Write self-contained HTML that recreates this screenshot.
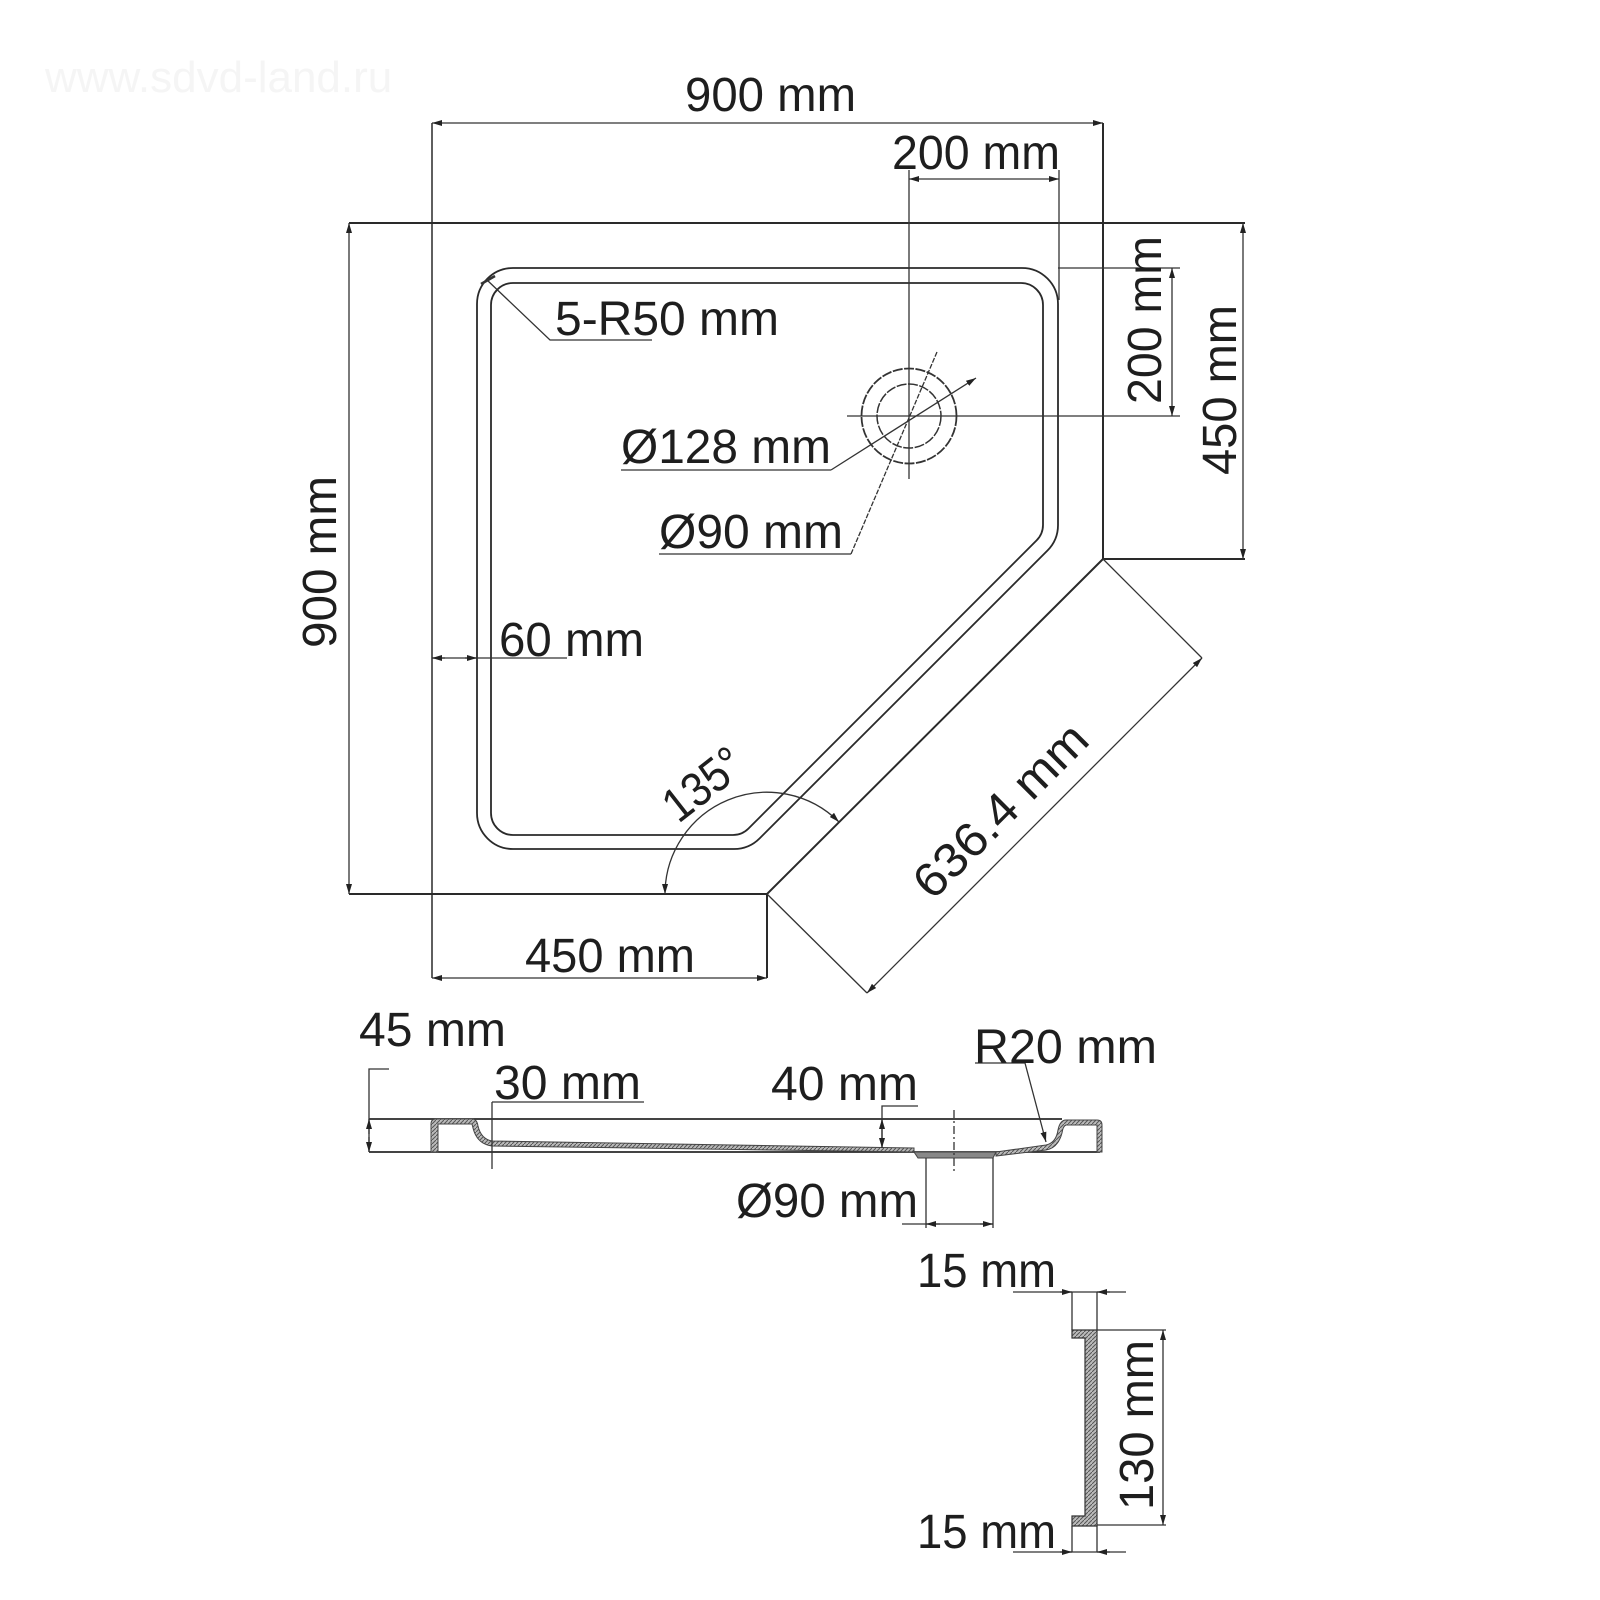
<!DOCTYPE html>
<html><head><meta charset="utf-8"><style>
html,body{margin:0;padding:0;background:#fff;}
svg{display:block;}
text{font-family:"Liberation Sans",sans-serif;fill:#1e1e1e;}
</style></head><body>
<svg width="1600" height="1600" viewBox="0 0 1600 1600" xmlns="http://www.w3.org/2000/svg">
<defs>
<marker id="a" viewBox="0 0 10 6" refX="10" refY="3" markerWidth="10" markerHeight="6" markerUnits="userSpaceOnUse" orient="auto-start-reverse">
<path d="M0,0 L10,3 L0,6 Z" fill="#222"/></marker>
<pattern id="h" width="4" height="4" patternUnits="userSpaceOnUse"><rect width="4" height="4" fill="#bbb"/><path d="M0,4 L4,0" stroke="#555" stroke-width="1"/></pattern>
</defs>
<text x="45" y="92" font-size="44" style="fill:#f5f5f5">www.sdvd-land.ru</text>

<g fill="none" stroke="#2a2a2a" stroke-width="2">
<path d="M349 223 H1245 M1103 123 V559 H1245 M1103 559 L767 894 M349 894 H767 V978"/>
<path d="M432 123 V978" stroke-width="1.5"/>
<path d="M513 268 H1022 A36 36 0 0 1 1058 304 V525 A36 36 0 0 1 1047.5 550.5 L759.5 838.5 A36 36 0 0 1 734 849 H513 A36 36 0 0 1 477 813 V304 A36 36 0 0 1 513 268 Z" stroke-width="1.8"/>
<path d="M513 283 H1021 A22 22 0 0 1 1043 305 V525 A22 22 0 0 1 1036.6 540.4 L748.4 828.6 A22 22 0 0 1 733 835 H513 A22 22 0 0 1 491 813 V305 A22 22 0 0 1 513 283 Z" stroke-width="1.8"/>
</g>

<g fill="none" stroke="#333" stroke-width="1.3">
<path d="M432 123 H1103" marker-start="url(#a)" marker-end="url(#a)"/>
<path d="M349 223 V894" marker-start="url(#a)" marker-end="url(#a)"/>
<path d="M909 179 H1059" marker-start="url(#a)" marker-end="url(#a)"/>
<path d="M909 170 V479 M1059 170 V300"/>
<path d="M1058 268 H1180 M847 416 H1180"/>
<path d="M1172 268 V416" marker-start="url(#a)" marker-end="url(#a)"/>
<path d="M1243 223 V559" marker-start="url(#a)" marker-end="url(#a)"/>
<circle cx="909" cy="416" r="47.5" stroke-dasharray="10 1.5" stroke-width="1.8"/>
<circle cx="909" cy="416" r="32" stroke-dasharray="10 1.5" stroke-width="1.5"/>
<path d="M831 470 L976 378" marker-end="url(#a)"/>
<path d="M851 554 L937 352" stroke-dasharray="5 1.5"/>
<path d="M621 470 H831 M659 554 H851"/>
<path d="M487 280 L550 340 H652"/>
<path d="M481 284 L495 276" stroke-width="2.5"/>
<path d="M432 658 H567"/>
<path d="M445 658 H432" marker-end="url(#a)"/>
<path d="M465 658 H477" marker-end="url(#a)"/>
<path d="M665 894 A102 102 0 0 1 839 822" marker-start="url(#a)" marker-end="url(#a)"/>
<path d="M1103 559 L1202 658 M767 894 L867 993"/>
<path d="M867 993 L1202 658" marker-start="url(#a)" marker-end="url(#a)"/>
<path d="M432 978 H767" marker-start="url(#a)" marker-end="url(#a)"/>
</g>

<g font-size="48">
<text x="685" y="111" textLength="171" lengthAdjust="spacingAndGlyphs">900 mm</text>
<text x="892" y="169" textLength="168" lengthAdjust="spacingAndGlyphs">200 mm</text>
<text x="555" y="335" textLength="224" lengthAdjust="spacingAndGlyphs">5-R50 mm</text>
<text x="621" y="463" textLength="210" lengthAdjust="spacingAndGlyphs">Ø128 mm</text>
<text x="659" y="548" textLength="184" lengthAdjust="spacingAndGlyphs">Ø90 mm</text>
<text x="499" y="656" textLength="145" lengthAdjust="spacingAndGlyphs">60 mm</text>
<text x="525" y="972" textLength="170" lengthAdjust="spacingAndGlyphs">450 mm</text>
<text transform="translate(336 562) rotate(-90)" text-anchor="middle" textLength="172" lengthAdjust="spacingAndGlyphs">900 mm</text>
<text transform="translate(1161 320) rotate(-90)" text-anchor="middle" textLength="168" lengthAdjust="spacingAndGlyphs">200 mm</text>
<text transform="translate(1236 390) rotate(-90)" text-anchor="middle" textLength="170" lengthAdjust="spacingAndGlyphs">450 mm</text>
<text transform="translate(713 797) rotate(-38)" text-anchor="middle" textLength="88" lengthAdjust="spacingAndGlyphs">135°</text>
<text transform="translate(1012 822) rotate(-45)" text-anchor="middle" textLength="225" lengthAdjust="spacingAndGlyphs">636.4 mm</text>
</g>

<g fill="none" stroke="#2a2a2a" stroke-width="1.8">
<path d="M369 1119 H1062 M369 1152 H1100"/>
</g>
<g stroke="#444" stroke-width="1" fill="url(#h)">
<path d="M431 1152 V1124 Q431 1119 436 1119 H472 Q477 1119 478 1126 Q481 1139 492 1141 L914 1148 L914 1152 L492 1146 Q477 1144 473 1128 L472 1124 H438 V1152 Z"/>
<path d="M996 1152 L1046 1145 Q1056 1143 1058 1130 Q1060 1120 1066 1120 H1097 Q1102 1120 1102 1125 V1152 H1097 V1125 H1066 Q1063 1126 1062 1133 Q1058 1148 1046 1150 L996 1156 Z"/>
<path d="M914 1152 H996 L993 1158 H918 Z" fill="#888"/>
</g>
<g fill="none" stroke="#333" stroke-width="1.3">
<path d="M926 1158 V1228 M993 1158 V1228"/>
<path d="M902 1224 H993" />
<path d="M940 1224 H926" marker-end="url(#a)"/>
<path d="M980 1224 H993" marker-end="url(#a)"/>
<path d="M954 1110 V1171" stroke-dasharray="8 3 2 3"/>
<path d="M389 1069 H369 V1152"/>
<path d="M369 1134 V1119" marker-end="url(#a)"/>
<path d="M369 1137 V1152" marker-end="url(#a)"/>
<path d="M492 1102 H644 M492 1102 V1169"/>
<path d="M918 1106 H882 V1148"/>
<path d="M882 1119 V1148" marker-start="url(#a)" marker-end="url(#a)"/>
<path d="M975 1063 H1025 L1046 1142" marker-end="url(#a)"/>
</g>
<g font-size="48">
<text x="359" y="1046" textLength="147" lengthAdjust="spacingAndGlyphs">45 mm</text>
<text x="494" y="1099" textLength="147" lengthAdjust="spacingAndGlyphs">30 mm</text>
<text x="771" y="1100" textLength="147" lengthAdjust="spacingAndGlyphs">40 mm</text>
<text x="974" y="1063" textLength="183" lengthAdjust="spacingAndGlyphs">R20 mm</text>
<text x="736" y="1217" textLength="182" lengthAdjust="spacingAndGlyphs">Ø90 mm</text>
</g>

<g stroke="#333" stroke-width="1.2" fill="url(#h)">
<path d="M1072 1330 H1097 V1526 H1072 V1516 H1085 V1338 H1072 Z"/>
</g>
<g fill="none" stroke="#333" stroke-width="1.3">
<path d="M1013 1292 H1126 M1013 1552 H1126"/>
<path d="M1060 1292 H1072" marker-end="url(#a)"/>
<path d="M1110 1292 H1097" marker-end="url(#a)"/>
<path d="M1060 1552 H1072" marker-end="url(#a)"/>
<path d="M1110 1552 H1097" marker-end="url(#a)"/>
<path d="M1072 1292 V1330 M1097 1292 V1330 M1072 1526 V1552 M1097 1526 V1552"/>
<path d="M1097 1330 H1166 M1097 1525 H1166"/>
<path d="M1163 1330 V1525" marker-start="url(#a)" marker-end="url(#a)"/>
</g>
<g font-size="48">
<text x="917" y="1287" textLength="139" lengthAdjust="spacingAndGlyphs">15 mm</text>
<text x="917" y="1548" textLength="139" lengthAdjust="spacingAndGlyphs">15 mm</text>
<text transform="translate(1153 1425) rotate(-90)" text-anchor="middle" textLength="170" lengthAdjust="spacingAndGlyphs">130 mm</text>
</g>
</svg>
</body></html>
